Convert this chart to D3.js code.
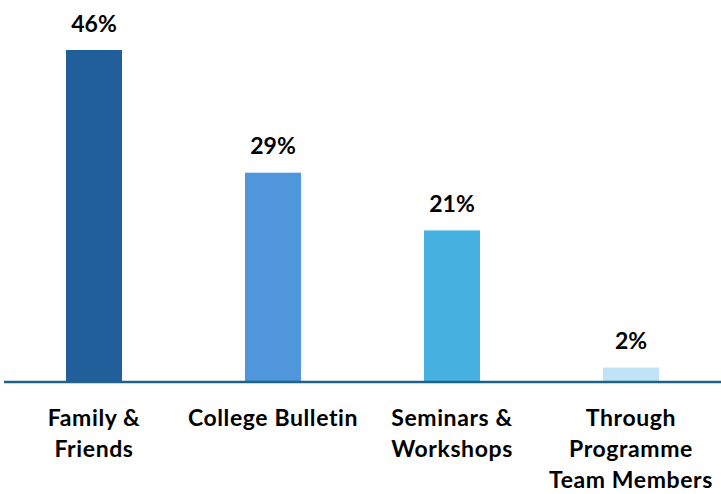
<!DOCTYPE html>
<html>
<head>
<meta charset="utf-8">
<script src="https://cdn.jsdelivr.net/npm/d3@7"></script>
<style>
  html, body { margin: 0; padding: 0; background: #ffffff; overflow: hidden; }
  svg { display: block; }
  text { font-family: Lato, "Open Sans", "Liberation Sans", sans-serif; font-weight: bold; fill: #000; }
</style>
</head>
<body>
<svg id="chart" width="721" height="494"></svg>
<script>
// Where respondents heard about the programme
const categories = [
  ["Family &", "Friends"],
  ["College Bulletin"],
  ["Seminars &", "Workshops"],
  ["Through", "Programme", "Team Members"]
];
const values = [46, 29, 21, 2];
const colors = ["#215f9a", "#5096db", "#46b1e1", "#c0e4f5"];

const svg = d3.select("#chart");
const baseline = 382;

const x = d3.scaleBand()
  .domain(d3.range(categories.length))
  .range([4.5, 720.5])
  .paddingInner(0.687)
  .paddingOuter(0.3435);

const y = d3.scaleLinear()
  .domain([0, 46])
  .range([baseline, 50]);

// bars
svg.append("g")
  .selectAll("rect")
  .data(values)
  .join("rect")
  .attr("x", (d, i) => x(i))
  .attr("y", d => y(d))
  .attr("width", x.bandwidth())
  .attr("height", d => baseline - y(d))
  .attr("fill", (d, i) => colors[i]);

// value labels above each bar
svg.append("g")
  .selectAll("text")
  .data(values)
  .join("text")
  .attr("x", (d, i) => x(i) + x.bandwidth() / 2)
  .attr("y", d => y(d) - 18.5)
  .attr("text-anchor", "middle")
  .attr("font-size", 23)
  .text(d => d + "%");

// category axis with wrapped labels
const axis = d3.axisBottom(x).tickSize(0).tickFormat("");
const axisG = svg.append("g")
  .attr("transform", `translate(0,${baseline})`)
  .call(axis);
axisG.select(".domain")
  .attr("d", "M4,0H721")
  .attr("stroke", "#1f6287")
  .attr("stroke-width", 2.5);

axisG.selectAll(".tick").each(function(d) {
  const t = d3.select(this).append("text")
    .attr("text-anchor", "middle")
    .attr("font-size", 23)
    .attr("letter-spacing", 0.6)
    .attr("y", 44);
  categories[d].forEach((line, k) => {
    t.append("tspan")
      .attr("x", 0)
      .attr("dy", k === 0 ? 0 : 31)
      .text(line);
  });
});
</script>
</body>
</html>
